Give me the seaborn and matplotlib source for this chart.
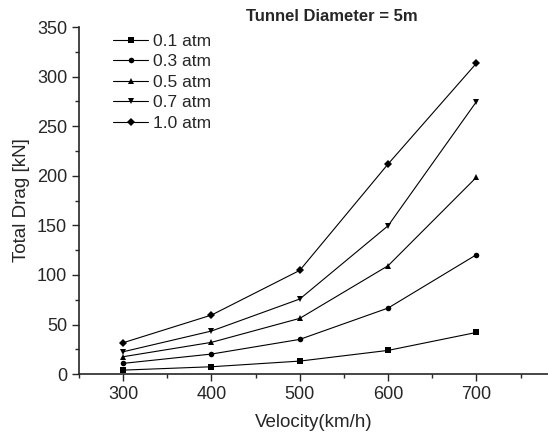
import matplotlib
matplotlib.use("Agg")
import matplotlib.pyplot as plt
from matplotlib.ticker import MultipleLocator
import seaborn as sns
import pandas as pd

# 속도와 압력별 항력 값
velocity = [300, 400, 500, 600, 700]
pressures = ["0.1 atm", "0.3 atm", "0.5 atm", "0.7 atm", "1.0 atm"]
drag_01 = [4.0, 7.4, 13.1, 23.9, 42.0]
drag_03 = [10.8, 20.2, 35.0, 66.6, 120.4]
drag_05 = [17.5, 32.0, 56.2, 109.3, 198.5]
drag_07 = [22.5, 43.4, 75.7, 149.6, 274.8]
drag_10 = [31.6, 59.5, 104.6, 211.9, 313.5]

rows = []
for p, vals in zip(pressures, [drag_01, drag_03, drag_05, drag_07, drag_10]):
    for v, d in zip(velocity, vals):
        rows.append({"velocity": v, "drag": d, "pressure": p})
df = pd.DataFrame(rows)

sns.set_style("ticks")
plt.rcParams["font.family"] = ["Liberation Sans", "DejaVu Sans"]

fig = plt.figure(figsize=(5.48, 4.36), dpi=100)
ax = fig.add_axes([0.144, 0.142, 0.856, 0.796])

marker_map = {"0.1 atm": "s", "0.3 atm": "o", "0.5 atm": "^", "0.7 atm": "v", "1.0 atm": "D"}
sns.lineplot(data=df, x="velocity", y="drag", style="pressure", hue="pressure",
             palette=["black"] * 5, markers=marker_map, dashes=False,
             markersize=4, linewidth=0.8, markeredgewidth=0, ax=ax)

ax.set_xlim(250, 781)
ax.set_ylim(0, 350)
ax.xaxis.set_major_locator(MultipleLocator(100))
ax.xaxis.set_minor_locator(MultipleLocator(50))
ax.yaxis.set_major_locator(MultipleLocator(50))
ax.yaxis.set_minor_locator(MultipleLocator(25))
ax.tick_params(axis="both", which="major", labelsize=13, length=5, width=1)
ax.tick_params(axis="both", which="minor", length=3, width=1)
sns.despine(ax=ax)
for s in ["left", "bottom"]:
    ax.spines[s].set_linewidth(1.2)

ax.set_xlabel("Velocity(km/h)", fontsize=13.5, labelpad=8)
ax.set_ylabel("Total Drag [kN]", fontsize=13.5, labelpad=5)
fig.text(0.605, 0.962, "Tunnel Diameter = 5m", fontsize=12, fontweight="bold",
         ha="center", va="center")

leg = ax.legend(loc="upper left", bbox_to_anchor=(0.04, 1.025), frameon=False,
                fontsize=12.5, handlelength=2.0, labelspacing=0.3, handletextpad=0.3)

fig.savefig("out.png", dpi=100)
